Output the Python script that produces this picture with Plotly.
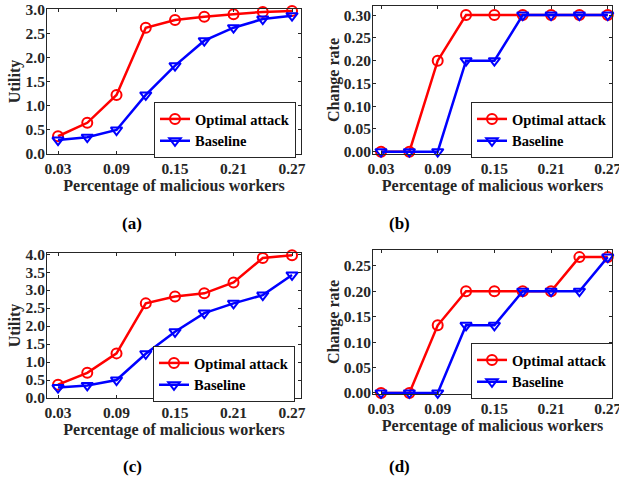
import plotly.graph_objects as go

x_vals = [0.03, 0.06, 0.09, 0.12, 0.15, 0.18, 0.21, 0.24, 0.27]
x_ticks = [0.03, 0.09, 0.15, 0.21, 0.27]
x_ticktext = ["0.03", "0.09", "0.15", "0.21", "0.27"]

a_optimal = [0.37, 0.65, 1.23, 2.63, 2.79, 2.86, 2.91, 2.96, 2.98]
a_baseline = [0.29, 0.35, 0.50, 1.23, 1.84, 2.36, 2.63, 2.81, 2.88]

b_optimal = [0.0, 0.0, 0.20, 0.30, 0.30, 0.30, 0.30, 0.30, 0.30]
b_baseline = [0.0, 0.0, 0.0, 0.20, 0.20, 0.30, 0.30, 0.30, 0.30]

c_optimal = [0.37, 0.70, 1.24, 2.63, 2.82, 2.91, 3.21, 3.89, 3.97]
c_baseline = [0.29, 0.35, 0.50, 1.23, 1.84, 2.36, 2.63, 2.86, 3.42]

d_optimal = [0.0, 0.0, 0.133, 0.20, 0.20, 0.20, 0.20, 0.267, 0.267]
d_baseline = [0.0, 0.0, 0.0, 0.133, 0.133, 0.20, 0.20, 0.20, 0.267]

a_yticks = [0.0, 0.5, 1.0, 1.5, 2.0, 2.5, 3.0]
b_yticks = [0.0, 0.05, 0.10, 0.15, 0.20, 0.25, 0.30]
c_yticks = [0.0, 0.5, 1.0, 1.5, 2.0, 2.5, 3.0, 3.5, 4.0]
d_yticks = [0.0, 0.05, 0.10, 0.15, 0.20, 0.25]

series_names = ["Optimal attack", "Baseline"]
panel_labels = ["(a)", "(b)", "(c)", "(d)"]
x_title = "Percentage of malicious workers"
y_titles = ["Utility", "Change rate", "Utility", "Change rate"]

W, H = 619, 480
FONT = "Liberation Serif"
RED = "#ff0000"
BLUE = "#0000ff"
AXC = "#262626"

def px_x(p):
    return p / W

def px_y(p):
    return 1 - p / H

panels = [
    dict(opt=a_optimal, base=a_baseline, yt=a_yticks, fmt=".1f", xr=[0.0187, 0.2792], yr=[0, 3.02],
         xd=[47, 301], yd=[9, 154], leg=(296, 102)),
    dict(opt=b_optimal, base=b_baseline, yt=b_yticks, fmt=".2f", xr=[0.0215, 0.2745], yr=[-0.005, 0.32],
         xd=[373, 612], yd=[6, 154], leg=(613, 102)),
    dict(opt=c_optimal, base=c_baseline, yt=c_yticks, fmt=".1f", xr=[0.0187, 0.2792], yr=[0, 4.03],
         xd=[47, 301], yd=[253, 398], leg=(295, 346)),
    dict(opt=d_optimal, base=d_baseline, yt=d_yticks, fmt=".2f", xr=[0.0215, 0.2745], yr=[-0.002, 0.281],
         xd=[373, 612], yd=[250, 394], leg=(613, 343)),
]

fig = go.Figure()
layout = dict(
    width=W, height=H, margin=dict(l=0, r=0, t=0, b=0),
    paper_bgcolor="white", plot_bgcolor="white",
    font=dict(family=FONT, color="#262626", weight="bold"),
    showlegend=True,
)
label_pos = [(132, 223), (399, 223), (132, 466), (399, 466)]
annotations = []

for i, p in enumerate(panels):
    n = "" if i == 0 else str(i + 1)
    xa, ya = "x" + n, "y" + n
    lg = "legend" + n
    fig.add_trace(go.Scatter(
        x=x_vals, y=p["opt"], name=series_names[0], mode="lines+markers",
        xaxis=xa, yaxis=ya, legend=lg, cliponaxis=False,
        line=dict(color=RED, width=2.5),
        marker=dict(symbol="circle-open", size=10, color=RED, line=dict(width=2, color=RED)),
    ))
    fig.add_trace(go.Scatter(
        x=x_vals, y=p["base"], name=series_names[1], mode="lines+markers",
        xaxis=xa, yaxis=ya, legend=lg, cliponaxis=False,
        line=dict(color=BLUE, width=2.5),
        marker=dict(symbol="triangle-down-open", size=10, color=BLUE, line=dict(width=2, color=BLUE)),
    ))
    common = dict(showline=True, linecolor=AXC, linewidth=1, mirror="ticks", ticks="inside",
                  ticklen=3, tickcolor=AXC, showgrid=False, zeroline=False, automargin=False,
                  ticklabeloverflow="allow",
                  tickfont=dict(family=FONT, size=15.5, color="#262626", weight="bold"))
    layout["xaxis" + n] = dict(
        common, domain=[px_x(p["xd"][0]), px_x(p["xd"][1])], range=p["xr"], anchor=ya,
        tickvals=x_ticks, ticktext=x_ticktext,
        title=dict(text=x_title, standoff=4, font=dict(family=FONT, size=16, color="#262626", weight="bold")),
    )
    layout["yaxis" + n] = dict(
        common, domain=[px_y(p["yd"][1]), px_y(p["yd"][0])], range=p["yr"], anchor=xa,
        tickvals=p["yt"], tickformat=p["fmt"], ticklabelstandoff=-2,
        title=dict(text=y_titles[i], standoff=0, font=dict(family=FONT, size=16, color="#262626", weight="bold")),
    )
    layout[lg] = dict(
        x=px_x(p["leg"][0]), y=px_y(p["leg"][1]), xanchor="right", yanchor="top",
        bgcolor="white", bordercolor=AXC, borderwidth=1, itemwidth=30,
        font=dict(family=FONT, size=14.5, color="black", weight="bold"),
        tracegroupgap=0,
    )
    lx, ly = label_pos[i]
    annotations.append(dict(text=panel_labels[i], x=px_x(lx), y=px_y(ly), xref="paper", yref="paper",
                            showarrow=False, xanchor="center", yanchor="middle",
                            font=dict(family=FONT, size=17, color="black", weight="bold")))

layout["annotations"] = annotations
fig.update_layout(**layout)
fig.write_html("out.html", config={"displayModeBar": False},
               post_script="document.body.style.margin='0';document.body.style.overflow='hidden';")
